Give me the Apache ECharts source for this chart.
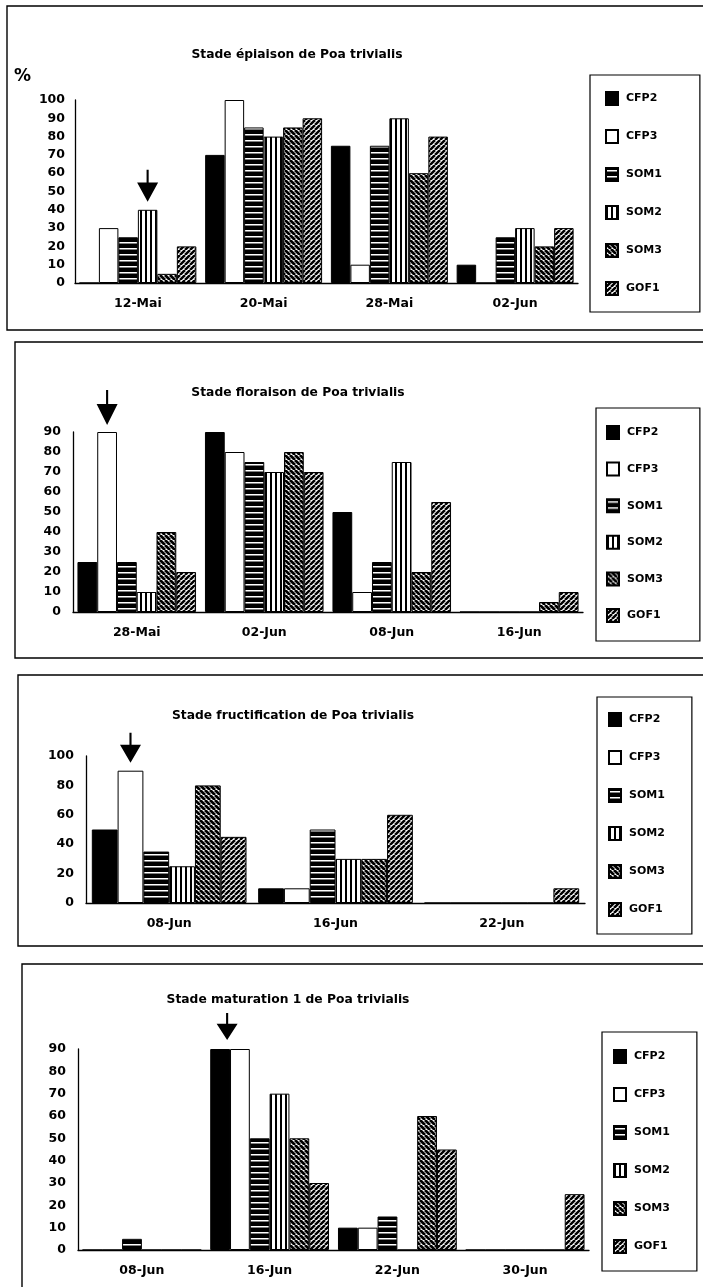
<!DOCTYPE html>
<html><head><meta charset="utf-8">
<script src="https://cdn.jsdelivr.net/npm/echarts@6/dist/echarts.min.js"></script>
<style>html,body{margin:0;padding:0;background:#fff}#c{width:703px;height:1287px}</style>
</head><body><div id="c"></div>
<script>
// ---------- DATA ----------
const seriesNames = ['CFP2','CFP3','SOM1','SOM2','SOM3','GOF1'];

// Chart 1 : épiaison
const title1 = 'Stade épiaison de Poa trivialis';
const cats1 = ['12-Mai','20-Mai','28-Mai','02-Jun'];
const ep_CFP2 = [0, 70, 75, 10];
const ep_CFP3 = [30, 100, 10, 0];
const ep_SOM1 = [25, 85, 75, 25];
const ep_SOM2 = [40, 80, 90, 30];
const ep_SOM3 = [5, 85, 60, 20];
const ep_GOF1 = [20, 90, 80, 30];
const yMax1 = 100, yStep1 = 10;

// Chart 2 : floraison
const title2 = 'Stade floraison de Poa trivialis';
const cats2 = ['28-Mai','02-Jun','08-Jun','16-Jun'];
const fl_CFP2 = [25, 90, 50, 0];
const fl_CFP3 = [90, 80, 10, 0];
const fl_SOM1 = [25, 75, 25, 0];
const fl_SOM2 = [10, 70, 75, 0];
const fl_SOM3 = [40, 80, 20, 5];
const fl_GOF1 = [20, 70, 55, 10];
const yMax2 = 90, yStep2 = 10;

// Chart 3 : fructification
const title3 = 'Stade fructification de Poa trivialis';
const cats3 = ['08-Jun','16-Jun','22-Jun'];
const fr_CFP2 = [50, 10, 0];
const fr_CFP3 = [90, 10, 0];
const fr_SOM1 = [35, 50, 0];
const fr_SOM2 = [25, 30, 0];
const fr_SOM3 = [80, 30, 0];
const fr_GOF1 = [45, 60, 10];
const yMax3 = 100, yStep3 = 20;

// Chart 4 : maturation 1
const title4 = 'Stade maturation 1 de Poa trivialis';
const cats4 = ['08-Jun','16-Jun','22-Jun','30-Jun'];
const ma_CFP2 = [0, 90, 10, 0];
const ma_CFP3 = [0, 90, 10, 0];
const ma_SOM1 = [5, 50, 15, 0];
const ma_SOM2 = [0, 70, 0, 0];
const ma_SOM3 = [0, 50, 60, 0];
const ma_GOF1 = [0, 30, 45, 25];
const yMax4 = 90, yStep4 = 10;

// arrows: [series name, category index]
const arrow1 = ['SOM2', 0];
const arrow2 = ['CFP3', 0];
const arrow3 = ['CFP3', 0];
const arrow4 = ['CFP2', 1];

// ---------- STYLE ----------
const FONT = 'DejaVu Sans';
function pattern(kind){
  const c = document.createElement('canvas');
  let ctx;
  if(kind === 'h'){
    c.width = 4; c.height = 6; ctx = c.getContext('2d');
    ctx.fillStyle = '#000'; ctx.fillRect(0,0,4,6);
    ctx.fillStyle = '#fff'; ctx.fillRect(0,2,4,1.5);
  } else if(kind === 'v'){
    c.width = 5; c.height = 4; ctx = c.getContext('2d');
    ctx.fillStyle = '#fff'; ctx.fillRect(0,0,5,4);
    ctx.fillStyle = '#000'; ctx.fillRect(0,0,2,4);
  } else {
    const s = 5; c.width = s; c.height = s; ctx = c.getContext('2d');
    ctx.fillStyle = '#fff'; ctx.fillRect(0,0,s,s);
    ctx.strokeStyle = '#000'; ctx.lineWidth = kind === 'd1' ? 2.8 : 2.5;
    ctx.beginPath();
    for(const o of [-s,0,s]){
      if(kind === 'd1'){ ctx.moveTo(o,0); ctx.lineTo(o+s,s); }
      else { ctx.moveTo(o,s); ctx.lineTo(o+s,0); }
    }
    ctx.stroke();
  }
  return {image: c, repeat: 'repeat'};
}
const fills = {
  CFP2: '#000',
  CFP3: '#fff',
  SOM1: pattern('h'),
  SOM2: pattern('v'),
  SOM3: pattern('d1'),
  GOF1: pattern('d2')
};

const charts = [
  {title: title1, titleX: 297, titleY: 55, cats: cats1, data: [ep_CFP2,ep_CFP3,ep_SOM1,ep_SOM2,ep_SOM3,ep_GOF1], yMax: yMax1, yStep: yStep1,
   grid: {left: 75, top: 100, width: 503, height: 183}, yMargin: 10,
   legend: {left: 590, top: 75, padding: [16, 38, 16, 15], itemGap: 23}, arrow: arrow1, arrowH: 32, arrowGap: 8},
  {title: title2, titleX: 298, titleY: 393, cats: cats2, data: [fl_CFP2,fl_CFP3,fl_SOM1,fl_SOM2,fl_SOM3,fl_GOF1], yMax: yMax2, yStep: yStep2,
   grid: {left: 73, top: 432, width: 510, height: 180}, yMargin: 12,
   legend: {left: 596, top: 408, padding: [17, 37, 18, 10], itemGap: 21.6}, arrow: arrow2, arrowH: 35, arrowGap: 7},
  {title: title3, titleX: 293, titleY: 716, cats: cats3, data: [fr_CFP2,fr_CFP3,fr_SOM1,fr_SOM2,fr_SOM3,fr_GOF1], yMax: yMax3, yStep: yStep3,
   grid: {left: 86, top: 756, width: 499, height: 147}, yMargin: 12,
   legend: {left: 597, top: 697, padding: [15, 27, 17, 11], itemGap: 23}, arrow: arrow3, arrowH: 30, arrowGap: 8},
  {title: title4, titleX: 288, titleY: 1000, cats: cats4, data: [ma_CFP2,ma_CFP3,ma_SOM1,ma_SOM2,ma_SOM3,ma_GOF1], yMax: yMax4, yStep: yStep4,
   grid: {left: 78, top: 1049, width: 511, height: 201}, yMargin: 12,
   legend: {left: 602, top: 1032, padding: [17, 27, 17, 11], itemGap: 23}, arrow: arrow4, arrowH: 27, arrowGap: 9, arrowDx: 7}
];

const option = {
  animation: false,
  textStyle: {fontFamily: FONT},
  grid: [], xAxis: [], yAxis: [], legend: [], series: [],
  graphic: []
};

// outer boxes
const boxes = [[7, 6, 330], [15, 342, 658], [18, 675, 946], [22, 964, 1300]];
boxes.forEach(b => option.graphic.push({type: 'rect', silent: true, z: -1,
  shape: {x: b[0], y: b[1], width: 760, height: b[2] - b[1]},
  style: {fill: 'none', stroke: '#000', lineWidth: 1.4}}));
option.graphic.push({type: 'text', x: 14, y: 68, style: {text: '%', font: 'bold 17px ' + FONT, fill: '#000'}});

charts.forEach((ch, i) => {
  option.graphic.push({type: 'text', x: ch.titleX, y: ch.titleY,
    style: {text: ch.title, font: 'bold 12.3px ' + FONT, fill: '#000', textAlign: 'center', textVerticalAlign: 'middle'}});
  option.grid.push(Object.assign({containLabel: false}, ch.grid));
  option.xAxis.push({type: 'category', gridIndex: i, data: ch.cats,
    axisLine: {lineStyle: {color: '#000', width: 1.3}}, axisTick: {show: false},
    axisLabel: {color: '#000', fontWeight: 'bold', fontSize: 12.5, margin: 14, fontFamily: FONT}});
  option.yAxis.push({type: 'value', gridIndex: i, min: 0, max: ch.yMax, interval: ch.yStep,
    axisLine: {show: true, lineStyle: {color: '#000', width: 1.3}}, axisTick: {show: false}, splitLine: {show: false},
    axisLabel: {color: '#000', fontWeight: 'bold', fontSize: 12.5, margin: ch.yMargin, fontFamily: FONT}});
  option.legend.push({orient: 'vertical', left: ch.legend.left, top: ch.legend.top, padding: ch.legend.padding,
    itemGap: ch.legend.itemGap, itemWidth: 12, itemHeight: 13, icon: 'rect', selectedMode: false,
    borderColor: '#000', borderWidth: 1.2, data: seriesNames,
    textStyle: {color: '#000', fontWeight: 'bold', fontSize: 11, fontFamily: FONT, padding: [0, 0, 0, 3], lineHeight: 13}});
  seriesNames.forEach((name, k) => {
    const s = {type: 'bar', name: name, xAxisIndex: i, yAxisIndex: i, data: ch.data[k],
      barGap: '0%', barCategoryGap: '7%',
      itemStyle: {color: fills[name], borderColor: '#000', borderWidth: 1}};
    if (ch.arrow[0] === name) {
      const h = ch.arrowH, t = (h*0.4).toFixed(1);
      s.markPoint = {silent: true, symbol: 'path://M9,0 L11,0 L11,' + t + ' L20,' + t + ' L10,' + h + ' L0,' + t + ' L9,' + t + ' Z',
        symbolSize: [21, h], symbolKeepAspect: false,
        symbolOffset: [ch.arrowDx || 0, -(h/2 + ch.arrowGap)],
        itemStyle: {color: '#000', borderWidth: 0}, label: {show: false},
        data: [{coord: [ch.arrow[1], ch.data[k][ch.arrow[1]]]}]};
    }
    option.series.push(s);
  });
});

const chart = echarts.init(document.getElementById('c'), null, {renderer: 'canvas'});
chart.setOption(option);
</script></body></html>
